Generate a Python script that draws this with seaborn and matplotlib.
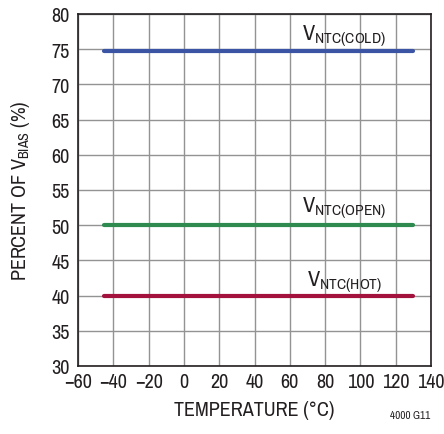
import matplotlib
matplotlib.use("Agg")
import matplotlib.pyplot as plt
import seaborn as sns
import pandas as pd
from matplotlib import font_manager

# Temperature sweep and threshold levels (% of VBIAS)
temperature = [-45, 130]
cold_pct = [74.7, 74.7]
open_pct = [50.0, 50.0]
hot_pct = [40.0, 40.0]

series_names = ["COLD", "OPEN", "HOT"]
series_colors = ["#3b54a3", "#2f8a4f", "#a3123c"]

x_ticks = list(range(-60, 141, 20))
y_ticks = list(range(30, 81, 5))

sns.set_theme(style="white")
names = sorted({f.name for f in font_manager.fontManager.ttflist})
if "Liberation Sans Narrow" in names:
    narrow = ["Liberation Sans Narrow"]
else:
    narrow = [n for n in names if "Narrow" in n or "Condensed" in n]
family = narrow[0] if narrow else "Liberation Sans"
plt.rcParams["font.family"] = [family, "DejaVu Sans"]
plt.rcParams["mathtext.default"] = "regular"
ink = "#231f20"
fs = 14.5 if narrow else 12
lab_fs = 16 if narrow else 13

rows = []
for name, vals in zip(series_names, [cold_pct, open_pct, hot_pct]):
    for t, v in zip(temperature, vals):
        rows.append({"temp": t, "pct": v, "series": name})
df = pd.DataFrame(rows)

fig = plt.figure(figsize=(4.44, 4.35), dpi=100)
ax = fig.add_axes([78 / 444, 1 - 367 / 435, (431 - 78) / 444, (367 - 15) / 435])

sns.lineplot(data=df, x="temp", y="pct", hue="series", palette=series_colors,
             hue_order=series_names, linewidth=3, legend=False, ax=ax, zorder=3)

ax.set_xlim(-60, 140)
ax.set_ylim(30, 80)
ax.set_xticks(x_ticks)
ax.set_yticks(y_ticks)
ax.set_xticklabels([f"\u2212{abs(t)}" if t < 0 else str(t) for t in x_ticks])
ax.grid(True, color="#939393", linewidth=1.0)
ax.tick_params(axis="x", labelsize=fs, length=0, pad=4, colors=ink)
ax.tick_params(axis="y", labelsize=fs, length=0, pad=6, colors=ink)
for s in ax.spines.values():
    s.set_color(ink)
    s.set_linewidth(1.2)

ax.set_xlabel("TEMPERATURE (°C)", fontsize=fs, color=ink, labelpad=7)
ax.set_ylabel("PERCENT OF V$_{BIAS}$ (%)", fontsize=fs, color=ink, labelpad=14)

label_pos = [(67, 76.4, "V$_{NTC(COLD)}$"), (67, 51.9, "V$_{NTC(OPEN)}$"), (69.5, 41.5, "V$_{NTC(HOT)}$")]
for x, y, txt in label_pos:
    ax.text(x, y, txt, fontsize=lab_fs, color=ink, ha="left", va="baseline")

fig.text(430 / 444, 1 - 416 / 435, "4000 G11", fontsize=8, color=ink, ha="right", va="center")

fig.savefig("out.png", dpi=100, facecolor="white")
